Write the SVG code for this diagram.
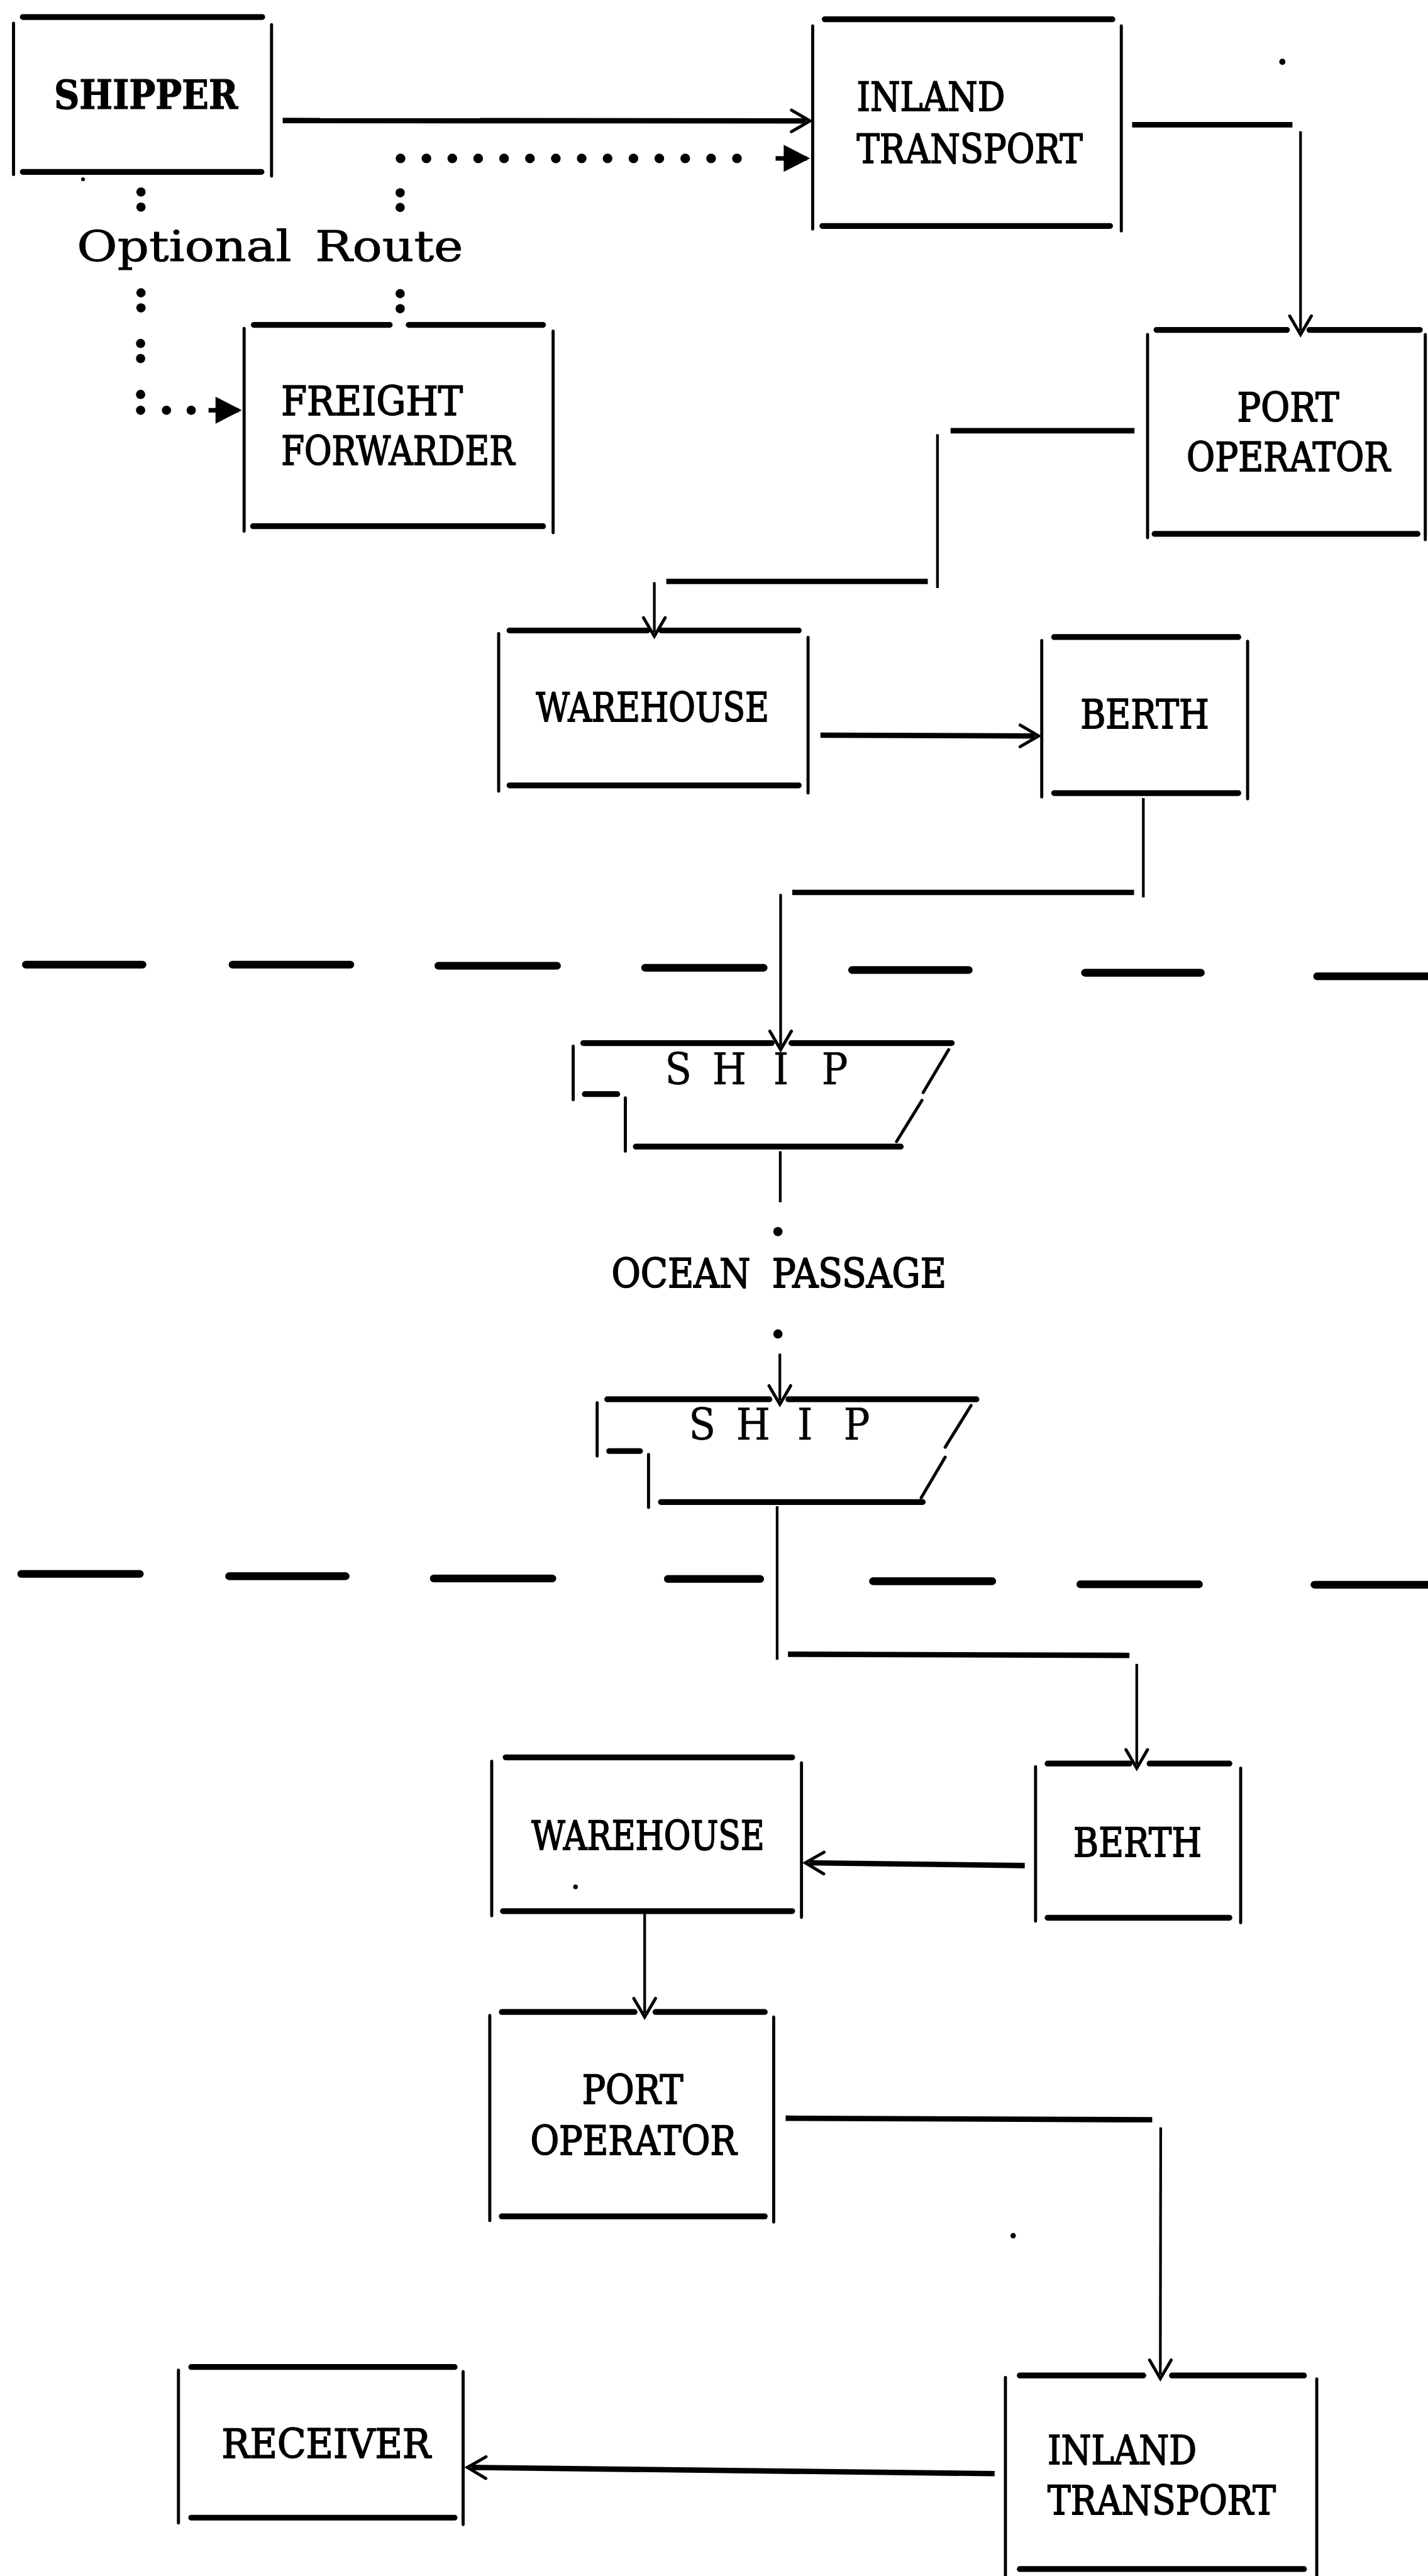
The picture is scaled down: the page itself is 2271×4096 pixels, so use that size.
<svg xmlns="http://www.w3.org/2000/svg" width="2271" height="4096" viewBox="0 0 2271 4096">
  <style>
    .h { stroke: #000; stroke-width: 15; stroke-linecap: round; fill: none; }
    .v { stroke: #000; stroke-width: 8; stroke-linecap: round; fill: none; }
    .ch { stroke: #000; stroke-width: 14; fill: none; }
    .cv { stroke: #000; stroke-width: 7; fill: none; }
    .stem { stroke: #000; stroke-width: 12; fill: none; }
    .dots { stroke: #000; stroke-width: 25; stroke-linecap: round; stroke-dasharray: 0 67; fill: none; }
    .sep { stroke: #000; stroke-width: 20; stroke-linecap: round; fill: none; }
    .dot { fill: #000; }
    .lbl { font-family: "DejaVu Serif", "Liberation Serif", serif; font-size: 104px; fill: #000; stroke: #000; stroke-width: 3; }
    .note { font-size: 110px; stroke-width: 1.5; word-spacing: 18px; }
    .wide { word-spacing: 30px; }
    .ship { font-family: "DejaVu Serif", "Liberation Serif", serif; font-stretch: condensed; font-size: 112px; fill: #000; stroke: #000; stroke-width: 1; text-anchor: middle; }
    .b { font-weight: bold; stroke-width: 2; }
  </style>
  <defs>
    <!-- open V head for the solid flow lines -->
    <marker id="open" markerUnits="userSpaceOnUse" viewBox="-50 -40 70 80" refX="0" refY="0" markerWidth="70" markerHeight="80" orient="auto">
      <path d="M-38,-28 L10,0 L-38,28" fill="none" stroke="#000" stroke-width="8" stroke-linecap="round"/>
    </marker>
    <!-- filled head for the dotted optional route -->
    <marker id="fill" markerUnits="userSpaceOnUse" viewBox="-70 -45 90 90" refX="0" refY="0" markerWidth="90" markerHeight="90" orient="auto">
      <path d="M-60,-35 L8,0 L-60,35 Z" fill="#000"/>
    </marker>
  </defs>
  <rect width="2271" height="4096" fill="#fff"/>

  <g transform="scale(0.61428)">
    <g id="nodes">
      <g id="shipper">
        <path class="h" d="M59 44H679M59 445H677"/>
        <path class="v" d="M35 60V452M703 64V456"/>
        <text class="lbl b" x="140" y="282" textLength="476" lengthAdjust="spacingAndGlyphs">SHIPPER</text>
      </g>
      <g id="inland-transport-origin">
        <path class="h" d="M2135 50H2880M2129 585H2874"/>
        <path class="v" d="M2104 67V593M2903 67V598"/>
        <text class="lbl" x="2218" y="287" textLength="384" lengthAdjust="spacingAndGlyphs">INLAND</text>
        <text class="lbl" x="2218" y="421" textLength="585" lengthAdjust="spacingAndGlyphs">TRANSPORT</text>
      </g>
      <g id="freight-forwarder">
        <path class="h" d="M657 841H1009M1058 841H1406M655 1362H1406"/>
        <path class="v" d="M632 850V1375M1432 857V1379"/>
        <text class="lbl" x="728" y="1075" textLength="470" lengthAdjust="spacingAndGlyphs">FREIGHT</text>
        <text class="lbl" x="728" y="1203" textLength="604" lengthAdjust="spacingAndGlyphs">FORWARDER</text>
      </g>
      <g id="port-operator-origin">
        <path class="h" d="M2994 854H3332M3390 854H3676M2989 1382H3670"/>
        <path class="v" d="M2971 866V1392M3690 866V1397"/>
        <text class="lbl" x="3203" y="1091" textLength="264" lengthAdjust="spacingAndGlyphs">PORT</text>
        <text class="lbl" x="3072" y="1220" textLength="527" lengthAdjust="spacingAndGlyphs">OPERATOR</text>
      </g>
      <g id="warehouse-origin">
        <path class="h" d="M1319 1632H1676M1712 1632H2068M1319 2033H2068"/>
        <path class="v" d="M1291 1640V2048M2092 1650V2053"/>
        <text class="lbl" x="1388" y="1867" textLength="603" lengthAdjust="spacingAndGlyphs">WAREHOUSE</text>
      </g>
      <g id="berth-origin">
        <path class="h" d="M2729 1649H3206M2729 2053H3206"/>
        <path class="v" d="M2697 1658V2063M3230 1660V2068"/>
        <text class="lbl" x="2797" y="1885" textLength="333" lengthAdjust="spacingAndGlyphs">BERTH</text>
      </g>
      <g id="ship-departing">
        <path class="h" d="M1510 2700H1998M2049 2700H2464M1514 2832H1598M1646 2968H2332"/>
        <path class="v" d="M1484 2708V2847M1619 2842V2980M2456 2717L2390 2828M2387 2848L2321 2955"/>
        <text class="ship" x="1756 1822 1888 1955 2022 2091 2161" y="2807">S H I P</text>
      </g>
      <g id="ship-arriving">
        <path class="h" d="M1572 3622H1992M2041 3622H2528M1577 3756H1657M1711 3888H2389"/>
        <path class="v" d="M1546 3631V3769M1679 3765V3902M2514 3638L2447 3746M2447 3772L2385 3877"/>
        <text class="ship" x="1818 1884 1950 2017 2084 2151 2218" y="3727">S H I P</text>
      </g>
      <g id="berth-destination">
        <path class="h" d="M2712 4565H2924M2976 4565H3183M2712 4964H3183"/>
        <path class="v" d="M2681 4573V4973M3212 4577V4977"/>
        <text class="lbl" x="2779" y="4805" textLength="332" lengthAdjust="spacingAndGlyphs">BERTH</text>
      </g>
      <g id="warehouse-destination">
        <path class="h" d="M1309 4549H2051M1302 4947H2051"/>
        <path class="v" d="M1273 4559V4959M2075 4563V4963"/>
        <text class="lbl" x="1376" y="4787" textLength="603" lengthAdjust="spacingAndGlyphs">WAREHOUSE</text>
      </g>
      <g id="port-operator-destination">
        <path class="h" d="M1299 5208H1643M1697 5208H1980M1299 5737H1980"/>
        <path class="v" d="M1268 5217V5748M2003 5221V5752"/>
        <text class="lbl" x="1507" y="5445" textLength="262" lengthAdjust="spacingAndGlyphs">PORT</text>
        <text class="lbl" x="1373" y="5577" textLength="534" lengthAdjust="spacingAndGlyphs">OPERATOR</text>
      </g>
      <g id="inland-transport-destination">
        <path class="h" d="M2640 6149H2960M3034 6149H3376M2640 6650H3376"/>
        <path class="v" d="M2603 6154V6668M3409 6158V6668"/>
        <text class="lbl" x="2712" y="6378" textLength="386" lengthAdjust="spacingAndGlyphs">INLAND</text>
        <text class="lbl" x="2712" y="6509" textLength="591" lengthAdjust="spacingAndGlyphs">TRANSPORT</text>
      </g>
      <g id="receiver">
        <path class="h" d="M495 6127H1177M495 6517H1177"/>
        <path class="v" d="M462 6135V6531M1199 6139V6535"/>
        <text class="lbl" x="574" y="6362" textLength="541" lengthAdjust="spacingAndGlyphs">RECEIVER</text>
      </g>
    </g>

    <g id="connectors">
      <!-- shipper to inland transport, direct -->
      <line class="ch" x1="732" y1="312" x2="2087" y2="313" marker-end="url(#open)"/>
      <!-- optional route via the freight forwarder -->
      <line class="dots" x1="1037" y1="410" x2="1975" y2="410"/>
      <line class="stem" x1="2008" y1="410" x2="2089" y2="410" marker-end="url(#fill)"/>
      <g class="dot">
        <circle cx="365" cy="497" r="12"/><circle cx="365" cy="536" r="12"/>
        <circle cx="365" cy="758" r="12"/><circle cx="365" cy="797" r="12"/>
        <circle cx="364" cy="889" r="12"/><circle cx="364" cy="928" r="12"/>
        <circle cx="364" cy="1021" r="12"/><circle cx="364" cy="1062" r="12"/>
        <circle cx="431" cy="1062" r="12"/><circle cx="495" cy="1062" r="12"/>
        <circle cx="1036" cy="499" r="12"/><circle cx="1036" cy="537" r="12"/>
        <circle cx="1036" cy="760" r="12"/><circle cx="1036" cy="799" r="12"/>
      </g>
      <line class="stem" x1="540" y1="1062" x2="618" y2="1062" marker-end="url(#fill)"/>
      <text class="lbl note" x="199" y="676" textLength="1000" lengthAdjust="spacingAndGlyphs">Optional Route</text>

      <!-- inland transport to port operator -->
      <path class="ch" d="M2931 323H3346"/>
      <line class="cv" x1="3367" y1="340" x2="3367" y2="856" marker-end="url(#open)"/>
      <!-- port operator to warehouse -->
      <path class="ch" d="M2937 1115H2461M2402 1505H1725"/>
      <path class="cv" d="M2427 1124V1522"/>
      <line class="cv" x1="1694" y1="1507" x2="1694" y2="1637" marker-end="url(#open)"/>
      <!-- warehouse to berth -->
      <line class="ch" x1="2124" y1="1903" x2="2679" y2="1905" marker-end="url(#open)"/>
      <!-- berth to ship -->
      <path class="cv" d="M2960 2066V2323"/>
      <path class="ch" d="M2936 2310H2051"/>
      <line class="cv" x1="2021" y1="2314" x2="2021" y2="2707" marker-end="url(#open)"/>
      <!-- ocean passage -->
      <path class="cv" d="M2020 2980V3112"/>
      <circle class="dot" cx="2014" cy="3188" r="12"/>
      <text class="lbl wide" x="1583" y="3332" textLength="867" lengthAdjust="spacingAndGlyphs">OCEAN PASSAGE</text>
      <circle class="dot" cx="2014" cy="3453" r="12"/>
      <line class="cv" x1="2019" y1="3504" x2="2019" y2="3625" marker-end="url(#open)"/>
      <!-- ship to berth -->
      <path class="cv" d="M2012 3899V4296"/>
      <path class="ch" d="M2040 4282L2924 4285"/>
      <line class="cv" x1="2943" y1="4307" x2="2943" y2="4567" marker-end="url(#open)"/>
      <!-- berth to warehouse -->
      <line class="ch" x1="2653" y1="4829" x2="2095" y2="4822" marker-end="url(#open)"/>
      <!-- warehouse to port operator -->
      <line class="cv" x1="1669" y1="4954" x2="1669" y2="5211" marker-end="url(#open)"/>
      <!-- port operator to inland transport -->
      <path class="ch" d="M2034 5483L2983 5487"/>
      <line class="cv" x1="3005" y1="5507" x2="3004" y2="6147" marker-end="url(#open)"/>
      <!-- inland transport to receiver -->
      <line class="ch" x1="2575" y1="6403" x2="1220" y2="6387" marker-end="url(#open)"/>
    </g>

    <!-- shorelines -->
    <g id="shorelines">
      <path class="sep" d="M67 2497H369M602 2497H907M1135 2500H1442M1670 2505H1977M2206 2511H2508M2809 2518H3109M3410 2527H3705"/>
      <path class="sep" d="M55 4074H362M593 4080H895M1123 4086H1430M1729 4087H1968M2260 4093H2569M2797 4101H3104M3403 4102H3705"/>
    </g>

    <!-- stray specks -->
    <g class="dot">
      <circle cx="3320" cy="160" r="8"/>
      <circle cx="215" cy="464" r="5"/>
      <circle cx="1490" cy="4884" r="6"/>
      <circle cx="2623" cy="5787" r="7"/>
    </g>
  </g>
</svg>
